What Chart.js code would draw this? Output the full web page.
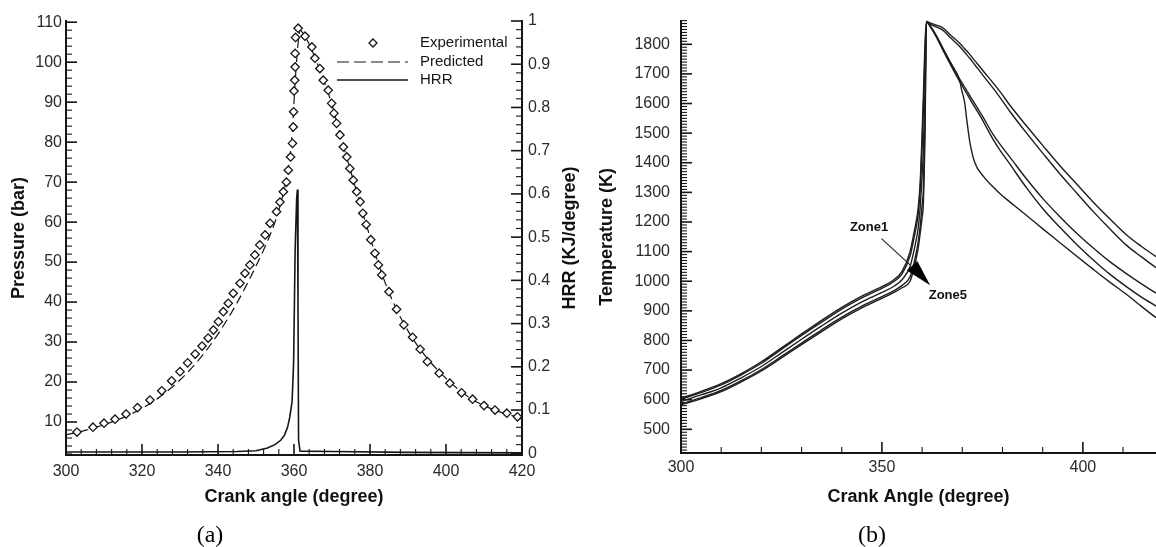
<!DOCTYPE html>
<html>
<head>
<meta charset="utf-8">
<title>Pressure, HRR and zone temperatures</title>
<script src="https://cdn.jsdelivr.net/npm/chart.js@4.4.1/dist/chart.umd.min.js"></script>
<style>
  html, body { margin: 0; padding: 0; background: #fff; }
  #wrap { position: relative; width: 1156px; height: 547px; overflow: hidden; }
  #chartA { position: absolute; left: 0; top: 0; }
  #chartB { position: absolute; left: 590px; top: 0; }
</style>
</head>
<body>
<div id="wrap">
  <canvas id="chartA" width="590" height="547"></canvas>
  <canvas id="chartB" width="566" height="547"></canvas>
</div>
<script>
// ---- panel (a): cylinder pressure and heat release rate ----
const expAngle = [302.9, 307.1, 310.0, 312.9, 315.8, 318.8, 322.1, 325.2, 327.8, 330.0, 332.0, 334.0, 335.8, 337.4, 338.8,
  340.1, 341.4, 342.7, 344.0, 345.8, 347.1, 348.4, 349.7, 351.0, 352.4, 353.7, 355.4, 356.3, 357.2, 358.0, 358.5, 359.1,
  359.6, 359.8, 359.9, 360.0, 360.2, 360.3, 360.3, 360.4, 361.1, 362.9, 364.7, 365.5, 366.8, 367.7, 369.0, 369.9, 370.5,
  371.2, 372.1, 373.0, 373.9, 374.7, 375.6, 376.5, 377.4, 378.1, 379.0, 380.2, 381.3, 382.2, 383.1, 385.0, 387.0, 388.9,
  391.2, 393.2, 395.1, 398.2, 401.0, 404.1, 407.0, 410.0, 412.9, 416.0, 418.8];
const expPressure = [7.5, 8.7, 9.7, 10.7, 12.0, 13.6, 15.5, 17.8, 20.3, 22.6, 24.8, 27.0, 29.0, 31.0, 33.0,
  35.1, 37.6, 39.7, 42.2, 44.7, 47.2, 49.3, 51.8, 54.3, 56.8, 59.7, 62.6, 65.0, 67.6, 70.0, 73.0, 76.3,
  79.7, 83.8, 87.6, 92.8, 95.5, 98.8, 102.2, 106.2, 108.5, 106.5, 103.8, 101.0, 98.4, 95.5, 93.0, 89.7, 87.2,
  84.7, 81.8, 78.8, 76.3, 73.4, 70.5, 67.6, 65.1, 62.2, 59.4, 55.6, 52.2, 49.3, 46.8, 42.6, 38.2, 34.3,
  31.2, 28.2, 25.1, 22.2, 19.7, 17.3, 15.7, 14.1, 13.0, 12.2, 11.3];

const predAngle = [300, 305, 310, 315, 320, 325, 330, 335, 340, 345, 350, 353, 355, 357, 358.5, 359.5, 360.3, 361, 361.6,
  362.5, 364, 366, 368, 370, 372, 374, 376, 378, 380, 382, 384, 386, 388, 390, 392, 395, 398, 401, 404, 407, 410, 413, 416, 420];
const predPressure = [6.8, 7.9, 9.3, 11.1, 13.4, 16.5, 20.5, 25.6, 32.0, 39.8, 49.0, 55.2, 60.0, 66.5, 73.5, 82.0, 95.0, 104.0, 108.0,
  107.0, 104.5, 100.0, 95.0, 89.3, 82.3, 75.8, 69.2, 62.6, 56.3, 50.2, 44.8, 40.2, 36.2, 32.8, 29.8, 26.0, 22.8, 20.0, 17.6, 15.6, 14.1, 12.9, 12.0, 10.9];

const hrrAngle = [300, 330, 345, 350, 353, 355, 356.5, 357.5, 358.3, 358.9, 359.5, 359.9, 360.3, 360.7, 360.9, 361.05, 361.2, 361.6, 370, 390, 420];
const hrr = [0.003, 0.003, 0.004, 0.006, 0.012, 0.02, 0.03, 0.042, 0.06, 0.084, 0.12, 0.21, 0.47, 0.59, 0.61, 0.35, 0.03, 0.005, 0.004, 0.002, 0.001];

const pressureTicks = [10, 20, 30, 40, 50, 60, 70, 80, 90, 100, 110];
const hrrTicks = [0, 0.1, 0.2, 0.3, 0.4, 0.5, 0.6, 0.7, 0.8, 0.9, 1];
const angleTicksA = [300, 320, 340, 360, 380, 400, 420];

// ---- panel (b): zone temperatures ----
const zoneAngle = [300, 305, 310, 315, 320, 325, 330, 335, 340, 345, 350, 353, 355,
  357, 358, 358.5, 359, 359.5, 360, 360.3, 360.7, 361.1,
  362, 363.5, 365.3, 367, 369.4, 369.8, 370.6, 371.1, 371.9, 373.1, 375.2, 377.7, 379.4, 381.8, 386, 390.1,
  394.3, 398.4, 402.6, 406.7, 410.9, 414.5, 418.2, 420];
const zone1 = [605, 628, 654, 688, 728, 775, 822, 868, 912, 950, 982, 1005, 1033,
  1100, 1165, 1200, 1245, 1330, 1500, 1620, 1800, 1877,
  1872, 1865, 1854, 1832, 1803, 1797, 1785, 1778, 1765, 1745, 1710, 1669, 1640, 1595, 1524, 1457,
  1390, 1329, 1267, 1211, 1156, 1118, 1083, 1066];
const zone2 = [602, 624, 650, 684, 723, 770, 817, 862, 906, 944, 976, 999, 1025,
  1085, 1147, 1181, 1225, 1305, 1460, 1576, 1752, 1877,
  1868, 1859, 1846, 1823, 1792, 1786, 1773, 1765, 1752, 1731, 1694, 1651, 1620, 1574, 1500, 1431,
  1362, 1299, 1235, 1177, 1121, 1083, 1046, 1029];
const zone3 = [594, 616, 640, 674, 712, 758, 804, 849, 892, 930, 962, 983, 1005,
  1050, 1105, 1138, 1178, 1245, 1358, 1440, 1640, 1877,
  1862, 1830, 1783, 1740, 1682, 1673, 1655, 1644, 1626, 1600, 1553, 1495, 1462, 1420, 1345, 1278,
  1218, 1163, 1112, 1066, 1025, 992, 960, 946];
const zone4 = [586, 607, 631, 664, 702, 746, 791, 836, 879, 916, 948, 968, 986,
  1015, 1063, 1094, 1130, 1185, 1257, 1304, 1528, 1877,
  1860, 1826, 1777, 1733, 1673, 1664, 1645, 1634, 1615, 1588, 1540, 1478, 1442, 1396, 1315, 1244,
  1182, 1125, 1072, 1024, 981, 947, 916, 901];
const zone5 = [583, 603, 627, 660, 697, 741, 786, 830, 873, 910, 942, 962, 978,
  1000, 1045, 1075, 1110, 1160, 1215, 1260, 1480, 1877,
  1862, 1829, 1782, 1739, 1675, 1648, 1602, 1546, 1468, 1401, 1355, 1318, 1295, 1268, 1222, 1176,
  1130, 1085, 1040, 997, 955, 916, 877, 860];

const tempTicks = [500, 600, 700, 800, 900, 1000, 1100, 1200, 1300, 1400, 1500, 1600, 1700, 1800];
const angleTicksB = [300, 350, 400];

// zone labels and arrows, in data units (angle, K)
const zone1Label = { text: 'Zone1', x: 346.8, y: 1180 };
const zone5Label = { text: 'Zone5', x: 366.4, y: 952 };
const zone1Arrow = [[349.9, 1144], [357.0, 1055]];
const zone5Wedge = [[356.2, 1036], [358.8, 1068], [362.0, 986]];

const SANS = "'Liberation Sans', Arial, Helvetica, sans-serif";
const SERIF = "'Liberation Serif', 'Times New Roman', serif";
const INK = '#151515';

Chart.defaults.font.family = SANS;
Chart.defaults.font.size = 16;
Chart.defaults.color = '#2a2a2a';

const pts = (xs, ys) => xs.map((x, i) => ({ x: x, y: ys[i] }));
const fixedTicks = list => scale => { scale.ticks = list.map(v => ({ value: v })); };

// inward major/minor tick marks, Tecplot style
const innerTicks = {
  id: 'innerTicks',
  beforeDatasetsDraw(chart, args, opts) {
    const ctx = chart.ctx;
    ctx.save();
    ctx.strokeStyle = INK;
    opts.axes.forEach(a => {
      const scale = chart.scales[a.id];
      const n = Math.round((a.to - a.from) / a.minor);
      for (let i = 0; i <= n; i++) {
        const v = a.from + i * a.minor;
        const major = a.major.some(m => Math.abs(m - v) < 1e-6);
        const len = major ? 11 : 6;
        const p = scale.getPixelForValue(v);
        ctx.lineWidth = major ? 1.6 : 1.1;
        ctx.beginPath();
        if (scale.isHorizontal()) {
          ctx.moveTo(p, scale.top); ctx.lineTo(p, scale.top - len);
        } else if (scale.position === 'left') {
          ctx.moveTo(scale.right, p); ctx.lineTo(scale.right + len, p);
        } else {
          ctx.moveTo(scale.left, p); ctx.lineTo(scale.left - len, p);
        }
        ctx.stroke();
      }
    });
    ctx.restore();
  }
};

function axisTitle(text, padding) {
  return { display: true, text: text, color: '#111', font: { size: 18, weight: 'bold' }, padding: padding };
}

function bareAxis() {
  return {
    grid: { display: false, drawTicks: false },
    border: { display: true, color: INK, width: 2 }
  };
}

// ---- chart (a) ----
const panelA = {
  id: 'panelA',
  afterDraw(chart) {
    const ctx = chart.ctx;
    ctx.save();
    // right axis title, reads bottom to top
    ctx.font = 'bold 18px ' + SANS;
    ctx.fillStyle = '#111';
    ctx.textAlign = 'center';
    ctx.textBaseline = 'middle';
    ctx.translate(570, 238);
    ctx.rotate(-Math.PI / 2);
    ctx.fillText('HRR (KJ/degree)', 0, 0);
    ctx.restore();

    // legend
    ctx.save();
    ctx.font = '15px ' + SANS;
    ctx.fillStyle = INK;
    ctx.strokeStyle = INK;
    ctx.textBaseline = 'middle';
    ctx.fillText(chart.data.datasets[0].label, 420, 43);
    ctx.fillText(chart.data.datasets[1].label, 420, 62);
    ctx.fillText(chart.data.datasets[2].label, 420, 80);
    ctx.lineWidth = 1.3;
    ctx.beginPath();
    ctx.moveTo(373, 39); ctx.lineTo(377, 43); ctx.lineTo(373, 47); ctx.lineTo(369, 43); ctx.closePath();
    ctx.fillStyle = '#fff'; ctx.fill(); ctx.stroke();
    ctx.lineWidth = 1.2;
    ctx.setLineDash([12, 5]);
    ctx.beginPath(); ctx.moveTo(337, 62); ctx.lineTo(408, 62); ctx.stroke();
    ctx.setLineDash([]);
    ctx.lineWidth = 1.6;
    ctx.beginPath(); ctx.moveTo(337, 80); ctx.lineTo(408, 80); ctx.stroke();

    ctx.font = '24px ' + SERIF;
    ctx.fillStyle = '#000';
    ctx.textAlign = 'center';
    ctx.textBaseline = 'alphabetic';
    ctx.fillText('(a)', 210, 542);
    ctx.restore();
  }
};

new Chart(document.getElementById('chartA'), {
  type: 'line',
  data: {
    datasets: [
      {
        label: 'Experimental', data: pts(expAngle, expPressure), yAxisID: 'y', showLine: false,
        pointStyle: 'rectRot', pointRadius: 4.2, pointBorderWidth: 1.3,
        pointBackgroundColor: '#fff', pointBorderColor: INK
      },
      {
        label: 'Predicted', data: pts(predAngle, predPressure), yAxisID: 'y',
        borderColor: INK, borderWidth: 1.2, borderDash: [9, 5], pointRadius: 0,
        cubicInterpolationMode: 'monotone'
      },
      {
        label: 'HRR', data: pts(hrrAngle, hrr), yAxisID: 'y1',
        borderColor: INK, borderWidth: 1.6, pointRadius: 0, tension: 0
      }
    ]
  },
  options: {
    responsive: false,
    animation: false,
    layout: { padding: { top: 21, right: 0, bottom: 0, left: 0 } },
    plugins: {
      legend: { display: false },
      tooltip: { enabled: false },
      innerTicks: {
        axes: [
          { id: 'x', from: 300, to: 420, minor: 4, major: angleTicksA },
          { id: 'y', from: 2, to: 110, minor: 2, major: pressureTicks },
          { id: 'y1', from: 0, to: 1, minor: 0.02, major: hrrTicks }
        ]
      }
    },
    scales: {
      x: Object.assign(bareAxis(), {
        type: 'linear', min: 300, max: 420,
        afterBuildTicks: fixedTicks(angleTicksA),
        afterFit: s => { s.height = 92; },
        ticks: { padding: 7, callback: v => String(v) },
        title: axisTitle('Crank angle (degree)', { top: 0, bottom: 39 })
      }),
      y: Object.assign(bareAxis(), {
        type: 'linear', position: 'left', min: 1.75, max: 110.3,
        afterBuildTicks: fixedTicks(pressureTicks),
        afterFit: s => { s.width = 66; },
        ticks: { padding: 4, callback: v => String(v) },
        title: axisTitle('Pressure (bar)', { top: 8, bottom: 0 })
      }),
      y1: Object.assign(bareAxis(), {
        type: 'linear', position: 'right', min: -0.004, max: 1.0,
        afterBuildTicks: fixedTicks(hrrTicks),
        afterFit: s => { s.width = 68; },
        ticks: { padding: 6, callback: v => String(v) }
      })
    }
  },
  plugins: [innerTicks, panelA]
});

// ---- chart (b) ----
const panelB = {
  id: 'panelB',
  afterDatasetsDraw(chart) {
    const ctx = chart.ctx;
    const xs = chart.scales.x, ys = chart.scales.y;
    const px = p => [xs.getPixelForValue(p[0]), ys.getPixelForValue(p[1])];
    ctx.save();
    ctx.fillStyle = '#111';
    ctx.strokeStyle = '#222';
    ctx.font = 'bold 13px ' + SANS;
    ctx.textAlign = 'center';
    ctx.textBaseline = 'middle';
    [zone1Label, zone5Label].forEach(l => {
      ctx.fillText(l.text, xs.getPixelForValue(l.x), ys.getPixelForValue(l.y));
    });
    const a0 = px(zone1Arrow[0]), a1 = px(zone1Arrow[1]);
    ctx.lineWidth = 1.1;
    ctx.beginPath(); ctx.moveTo(a0[0], a0[1]); ctx.lineTo(a1[0], a1[1]); ctx.stroke();
    ctx.beginPath();
    zone5Wedge.map(px).forEach((p, i) => i ? ctx.lineTo(p[0], p[1]) : ctx.moveTo(p[0], p[1]));
    ctx.closePath();
    ctx.fillStyle = '#000';
    ctx.fill();

    ctx.font = '24px ' + SERIF;
    ctx.textAlign = 'center';
    ctx.textBaseline = 'alphabetic';
    ctx.fillText('(b)', 282, 542);
    ctx.restore();
  }
};

const zoneLine = (label, values) => ({
  label: label, data: pts(zoneAngle, values),
  borderColor: '#1e1e1e', borderWidth: 1.4, pointRadius: 0,
  cubicInterpolationMode: 'monotone'
});

new Chart(document.getElementById('chartB'), {
  type: 'line',
  data: {
    datasets: [
      zoneLine('Zone1', zone1),
      zoneLine('Zone2', zone2),
      zoneLine('Zone3', zone3),
      zoneLine('Zone4', zone4),
      zoneLine('Zone5', zone5)
    ]
  },
  options: {
    responsive: false,
    animation: false,
    layout: { padding: { top: 17, right: 0, bottom: 0, left: 0 } },
    plugins: {
      legend: { display: false },
      tooltip: { enabled: false },
      innerTicks: {
        axes: [
          { id: 'x', from: 300, to: 410, minor: 10, major: angleTicksB },
          { id: 'y', from: 430, to: 1880, minor: 10, major: tempTicks }
        ]
      }
    },
    scales: {
      x: Object.assign(bareAxis(), {
        type: 'linear', min: 300, max: 418.2,
        afterBuildTicks: fixedTicks(angleTicksB),
        afterFit: s => { s.height = 94; },
        ticks: { padding: 5, callback: v => String(v) },
        title: axisTitle('Crank Angle (degree)', { top: 0, bottom: 39 })
      }),
      y: Object.assign(bareAxis(), {
        type: 'linear', position: 'left', min: 420, max: 1880,
        afterBuildTicks: fixedTicks(tempTicks),
        afterFit: s => { s.width = 91; },
        ticks: { padding: 11, callback: v => String(v) },
        title: axisTitle('Temperature (K)', { top: 6, bottom: 0 })
      })
    }
  },
  plugins: [innerTicks, panelB]
});
</script>
</body>
</html>
